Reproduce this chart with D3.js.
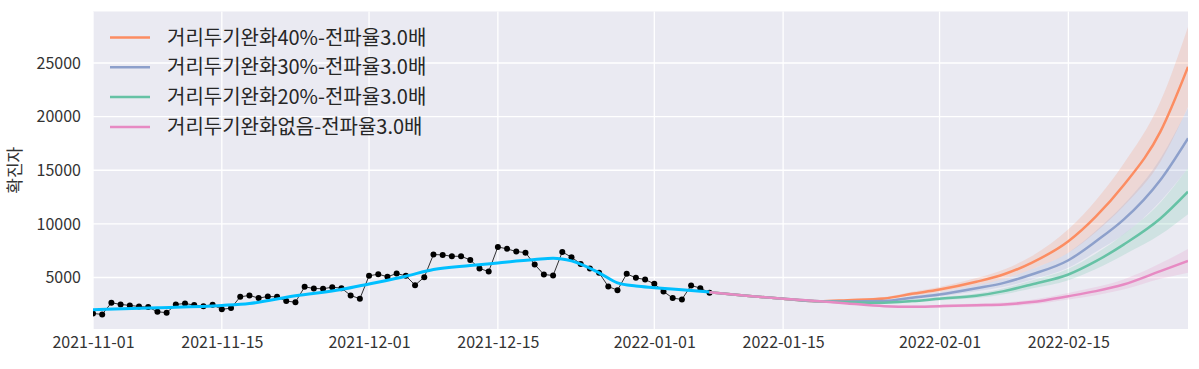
<!DOCTYPE html>
<html><head><meta charset="utf-8">
<script src="https://cdn.jsdelivr.net/npm/d3@7"></script>
<style>
html,body{margin:0;padding:0;background:#fff;}
svg{display:block;font-family:"Noto Sans CJK KR","Noto Sans",sans-serif;}
</style></head>
<body><svg id="chart" width="1199" height="369"></svg>
<script>
// ---------------- DATA ----------------
const startDate = "2021-11-01";
// observed daily confirmed cases, 2021-11-01 .. 2022-01-07
const observed = [1650,1560,2650,2490,2400,2300,2240,1810,1720,2490,
  2580,2430,2330,2460,2030,2150,3200,3330,3080,3230,
  3200,2800,2700,4130,3980,3950,4100,4010,3330,3020,
  5160,5310,5070,5370,5160,4290,5030,7140,7110,6980,
  6980,6640,5840,5560,7850,7670,7420,7320,6210,5280,
  5190,7390,6890,6270,5840,5440,4160,3820,5340,4970,
  4810,4410,3700,3080,2960,4260,4010,3580];
// fitted trend (day offset -> value)
const trendDays = [0,7,14,17,22,27,30,34,37,41,44,48,50,52,55,57,59,61,64,67];
const trendVals = [2000,2180,2400,2580,3300,3880,4400,5120,5750,6120,6360,6670,6800,6550,5440,4500,4200,4050,3850,3650];

// forecast knots (day offset from 2021-11-01)
const fcDays = [67,71,75,79,82,86,89,92,96,99,102,106,109,112,116,119];
const seriesNames = ["거리두기완화40%-전파율3.0배","거리두기완화30%-전파율3.0배","거리두기완화20%-전파율3.0배","거리두기완화없음-전파율3.0배"];
const seriesColors = ["#fc8d62","#8da0cb","#66c2a5","#e78ac3"];
const fc40 = [3620,3300,3020,2780,2890,3050,3480,3880,4600,5300,6370,8380,10700,13600,18600,24640];
const fc40lo = [3620,3280,2980,2720,2800,2930,3300,3650,4270,4870,5780,7300,9250,11650,15800,20900];
const fc40hi = [3620,3320,3060,2840,2980,3180,3680,4120,4950,5750,6980,9500,12200,15600,21400,28360];
const fc30 = [3620,3300,3020,2780,2760,2800,3110,3420,4000,4500,5280,6610,8380,10390,14100,17980];
const fc30lo = [3620,3280,2980,2720,2680,2690,2960,3220,3720,4130,4800,5900,7400,9000,12100,15200];
const fc30hi = [3620,3320,3060,2840,2840,2910,3260,3620,4280,4870,5760,7320,9360,11800,16100,20800];
const fc20 = [3620,3300,3020,2780,2700,2650,2800,3020,3300,3730,4350,5280,6520,8070,10500,13000];
const fc20lo = [3620,3280,2980,2720,2620,2550,2670,2860,3080,3450,3970,4750,5800,7100,9000,10900];
const fc20hi = [3620,3320,3060,2840,2780,2750,2930,3180,3520,4010,4730,5810,7240,9040,12000,15200];
const fc0 = [3620,3300,3020,2780,2580,2330,2270,2330,2420,2490,2710,3260,3730,4350,5600,6550];
const fc0lo = [3620,3280,2980,2720,2500,2240,2160,2200,2260,2310,2490,2960,3350,3880,4880,5450];
const fc0hi = [3620,3320,3060,2840,2660,2420,2380,2460,2580,2670,2930,3560,4110,4820,6320,7650];

const xTickLabels = ["2021-11-01","2021-11-15","2021-12-01","2021-12-15","2022-01-01","2022-01-15","2022-02-01","2022-02-15"];
const yTickValues = [5000,10000,15000,20000,25000];
const yLabel = "확진자";

// ---------------- DRAW ----------------
const parse = d3.timeParse("%Y-%m-%d");
const fmt = d3.timeFormat("%Y-%m-%d");
const t0 = parse(startDate);
const dayToDate = d => d3.timeDay.offset(t0, d);

const m = {left:93, right:1188, top:11.5, bottom:329};
const svg = d3.select("#chart");
const FONT = "'Noto Sans CJK KR','Noto Sans',sans-serif";

const x = d3.scaleTime().domain([t0, dayToDate(119)]).range([m.left, m.right]);
const y = d3.scaleLinear().domain([200, 29800]).range([m.bottom, m.top]);

svg.append("rect").attr("x", m.left).attr("y", m.top)
  .attr("width", m.right - m.left).attr("height", m.bottom - m.top).attr("fill", "#eaeaf2");

const xTicks = xTickLabels.map(parse);
svg.append("g").selectAll("line").data(yTickValues).join("line")
  .attr("x1", m.left).attr("x2", m.right).attr("y1", d => y(d)).attr("y2", d => y(d))
  .attr("stroke", "#fff").attr("stroke-width", 1.3);
svg.append("g").selectAll("line").data(xTicks).join("line")
  .attr("y1", m.top).attr("y2", m.bottom).attr("x1", d => x(d)).attr("x2", d => x(d))
  .attr("stroke", "#fff").attr("stroke-width", 1.3);

const xAxis = d3.axisBottom(x).tickValues(xTicks).tickFormat(fmt).tickSize(0).tickPadding(8);
const gx = svg.append("g").attr("transform", `translate(0,${m.bottom})`).call(xAxis);
gx.select(".domain").remove();
gx.selectAll("text").attr("font-size", 16).attr("fill", "#333").style("font-family", FONT);

const yAxis = d3.axisLeft(y).tickValues(yTickValues).tickFormat(d3.format("d")).tickSize(0).tickPadding(12);
const gy = svg.append("g").attr("transform", `translate(${m.left},0)`).call(yAxis);
gy.select(".domain").remove();
gy.selectAll("text").attr("font-size", 16).attr("fill", "#333").style("font-family", FONT);

svg.append("text").attr("transform", `translate(21,${(m.top + m.bottom) / 2}) rotate(-90)`)
  .attr("text-anchor", "middle").attr("font-size", 17).attr("fill", "#333").text(yLabel);

svg.append("clipPath").attr("id", "clip").append("rect")
  .attr("x", m.left).attr("y", m.top).attr("width", m.right - m.left).attr("height", m.bottom - m.top);
const plot = svg.append("g").attr("clip-path", "url(#clip)");

const fcSeries = [
  {v: fc40, lo: fc40lo, hi: fc40hi},
  {v: fc30, lo: fc30lo, hi: fc30hi},
  {v: fc20, lo: fc20lo, hi: fc20hi},
  {v: fc0, lo: fc0lo, hi: fc0hi}
];
const area = d3.area().x(d => x(dayToDate(d.d))).y0(d => y(d.lo)).y1(d => y(d.hi)).curve(d3.curveMonotoneX);
const line = d3.line().x(d => x(dayToDate(d.d))).y(d => y(d.v)).curve(d3.curveMonotoneX);

fcSeries.forEach((s, i) => {
  const pts = fcDays.map((d, k) => ({d, v: s.v[k], lo: s.lo[k], hi: s.hi[k]}));
  plot.append("path").datum(pts).attr("d", area).attr("fill", seriesColors[i]).attr("fill-opacity", 0.2);
});

const obsPts = observed.map((v, i) => ({d: i, v}));
plot.append("path").datum(obsPts)
  .attr("d", d3.line().x(d => x(dayToDate(d.d))).y(d => y(d.v)))
  .attr("fill", "none").attr("stroke", "#000").attr("stroke-width", 0.8);
plot.append("g").selectAll("circle").data(obsPts).join("circle")
  .attr("cx", d => x(dayToDate(d.d))).attr("cy", d => y(d.v)).attr("r", 3).attr("fill", "#000");

const trendPts = trendDays.map((d, k) => ({d, v: trendVals[k]}));
plot.append("path").datum(trendPts).attr("d", line)
  .attr("fill", "none").attr("stroke", "#00bfff").attr("stroke-width", 3);

fcSeries.forEach((s, i) => {
  const pts = fcDays.map((d, k) => ({d, v: s.v[k]}));
  plot.append("path").datum(pts).attr("d", line)
    .attr("fill", "none").attr("stroke", seriesColors[i]).attr("stroke-width", 2.5);
});

const lg = svg.append("g");
seriesNames.forEach((name, i) => {
  const yy = 37.5 + i * 29.8;
  lg.append("line").attr("x1", 110).attr("x2", 150).attr("y1", yy).attr("y2", yy)
    .attr("stroke", seriesColors[i]).attr("stroke-width", 2.5);
  lg.append("text").attr("x", 167).attr("y", yy).attr("dy", "0.35em")
    .attr("font-size", 20).attr("fill", "#262626").text(name);
});
</script>
</body></html>
